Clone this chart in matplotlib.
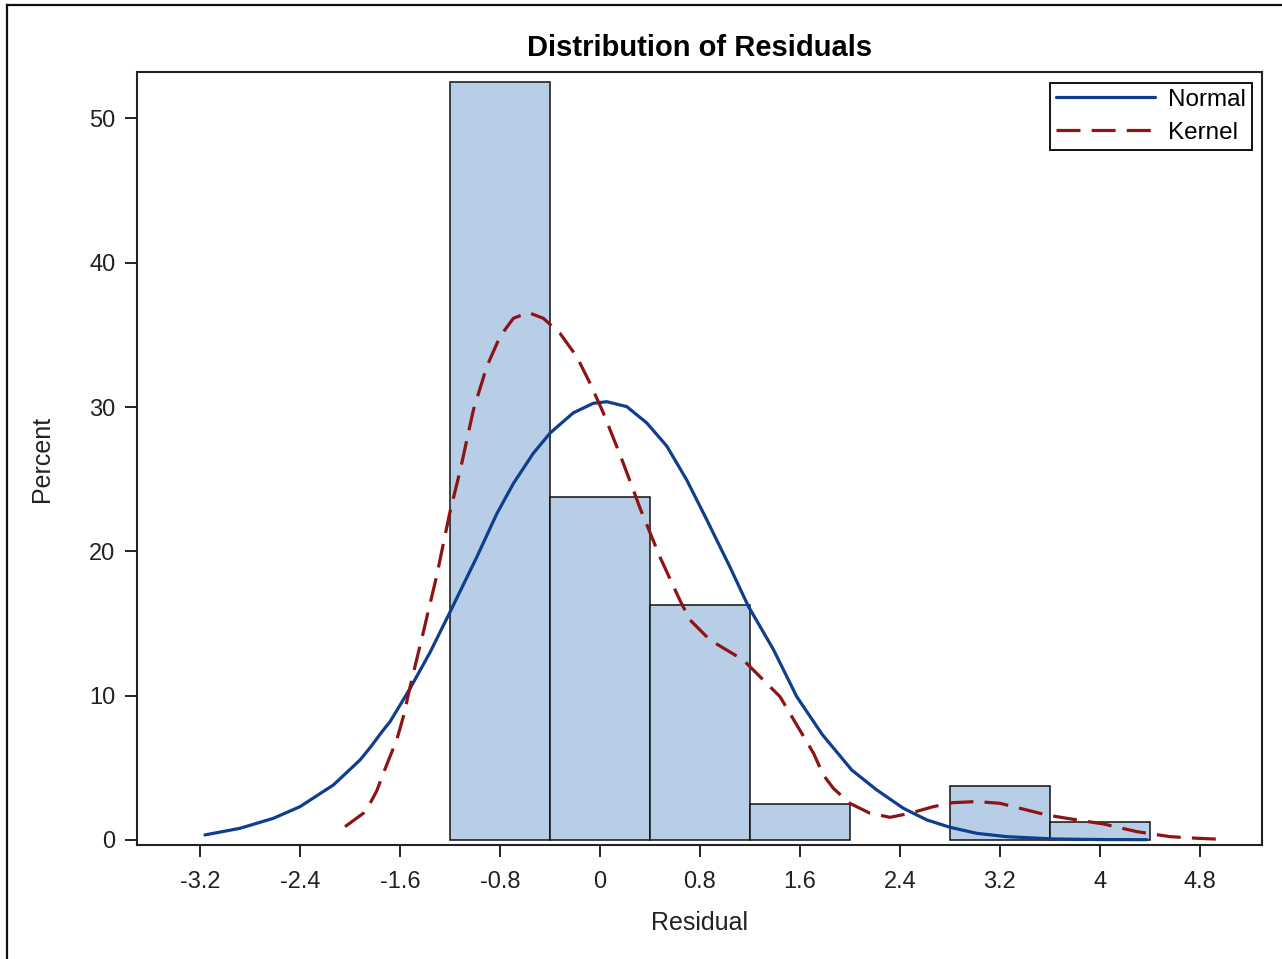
#!/usr/bin/env python3

import numpy as np
import matplotlib
matplotlib.use('Agg')
import matplotlib.pyplot as plt
from matplotlib.lines import Line2D

# histogram (percent of residuals per 0.8-wide bin)
bin_centers = [-0.8, 0.0, 0.8, 1.6, 2.4, 3.2, 4.0]
bin_percent = [52.5, 23.75, 16.25, 2.5, 0.0, 3.75, 1.25]
bin_width = 0.8

# fitted normal curve
normal_x = [-3.163, -2.882, -2.616, -2.402, -2.135, -1.922, -1.841, -1.735, -1.681, -1.521,
            -1.361, -1.201, -0.987, -0.827, -0.694, -0.534, -0.40, -0.214, -0.054, 0.054,
            0.214, 0.374, 0.534, 0.694, 0.854, 1.041, 1.187, 1.388, 1.575, 1.78,
            2.015, 2.215, 2.428, 2.616, 2.802, 3.016, 3.256, 3.63, 4.0, 4.377]
normal_y = [0.35, 0.81, 1.5, 2.31, 3.81, 5.54, 6.4, 7.62, 8.2, 10.5,
            13.0, 15.8, 19.6, 22.6, 24.7, 26.8, 28.2, 29.6, 30.26, 30.37,
            30.03, 28.9, 27.3, 24.95, 22.2, 18.9, 16.2, 13.2, 9.93, 7.3,
            4.85, 3.47, 2.2, 1.39, 0.88, 0.46, 0.23, 0.07, 0.03, 0.02]

# kernel density curve
kernel_x = [-2.042, -1.895, -1.841, -1.788, -1.735, -1.681, -1.628, -1.575, -1.521, -1.495,
            -1.415, -1.308, -1.205, -1.12, -1.014, -0.907, -0.80, -0.694, -0.574, -0.454,
            -0.32, -0.187, -0.08, 0.026, 0.16, 0.267, 0.32, 0.48, 0.64, 0.72,
            0.88, 1.147, 1.254, 1.441, 1.71, 1.788, 1.868, 2.0, 2.162, 2.322,
            2.482, 2.669, 2.829, 3.016, 3.203, 3.416, 3.576, 3.79, 4.03, 4.297,
            4.564, 4.777, 4.964]
kernel_y = [0.92, 1.85, 2.54, 3.4, 4.62, 5.8, 6.93, 8.54, 10.6, 11.55,
            14.4, 18.3, 22.6, 25.6, 29.8, 32.8, 34.9, 36.15, 36.55, 36.15,
            35.1, 33.5, 31.65, 29.6, 26.7, 24.25, 23.0, 19.6, 16.6, 15.25,
            13.86, 12.47, 11.55, 9.93, 6.0, 4.5, 3.58, 2.54, 1.85, 1.57,
            1.85, 2.31, 2.59, 2.66, 2.54, 2.08, 1.73, 1.43, 1.11, 0.58,
            0.23, 0.12, 0.05]

x_ticks = [-3.2, -2.4, -1.6, -0.8, 0, 0.8, 1.6, 2.4, 3.2, 4, 4.8]
y_ticks = [0, 10, 20, 30, 40, 50]

plt.rcParams['font.family'] = ['Liberation Sans', 'DejaVu Sans']

fig = plt.figure(figsize=(12.82, 9.59), dpi=100)
ax = fig.add_axes([0.1069, 0.1184, 0.8773, 0.8061])

# bars (empty bins are not drawn)
cx = [c for c, p in zip(bin_centers, bin_percent) if p > 0]
cp = [p for p in bin_percent if p > 0]
ax.bar(cx, cp, width=bin_width, color='#B8CEE6', edgecolor='#111111', linewidth=1.1, zorder=2)

ax.plot(normal_x, normal_y, color='#0E3E8C', linewidth=2.3, label='Normal', zorder=3,
        solid_capstyle='round', solid_joinstyle='round')
ax.plot(kernel_x, kernel_y, color='#8E1313', linewidth=2.3, label='Kernel', zorder=4,
        dashes=(7.5, 3.5))

ax.set_xlim(-3.707, 5.298)
ax.set_ylim(-0.38, 53.19)
ax.set_xticks(x_ticks)
ax.set_xticklabels([f'{v:g}' for v in x_ticks])
ax.set_yticks(y_ticks)

for s in ax.spines.values():
    s.set_color('#222222')
    s.set_linewidth(1.5)
ax.tick_params(direction='out', length=8.5, width=1.4, color='#222222',
               labelsize=17, labelcolor='#222222')
ax.tick_params(axis='x', pad=10)
ax.tick_params(axis='y', pad=7)

ax.set_xlabel('Residual', fontsize=18, color='#222222')
ax.xaxis.set_label_coords(0.5, -0.1003)
ax.xaxis.label.set_va('center')
ax.set_ylabel('Percent', fontsize=18, color='#222222')
ax.yaxis.set_label_coords(-0.0845, 0.5)
ax.yaxis.label.set_va('center')

ax.set_title('Distribution of Residuals', fontsize=21, fontweight='bold', y=1.0315,
             va='center', pad=0)

leg = ax.legend(loc='upper right', bbox_to_anchor=(1, 1), fontsize=17.5, frameon=True,
                fancybox=False, framealpha=1, edgecolor='#111111', borderaxespad=0.42,
                handlelength=4.1, handletextpad=0.5, borderpad=0.25, labelspacing=0.45)
leg.get_frame().set_linewidth(1.4)

# outer frame of the graph (left and top edges only are in the crop)
fig.add_artist(Line2D([0.0051, 0.0051], [0, 0.9948], color='#111111', linewidth=1.6))
fig.add_artist(Line2D([0.0051, 1.0], [0.9948, 0.9948], color='#111111', linewidth=1.6))

plt.savefig('out.png', dpi=100)
